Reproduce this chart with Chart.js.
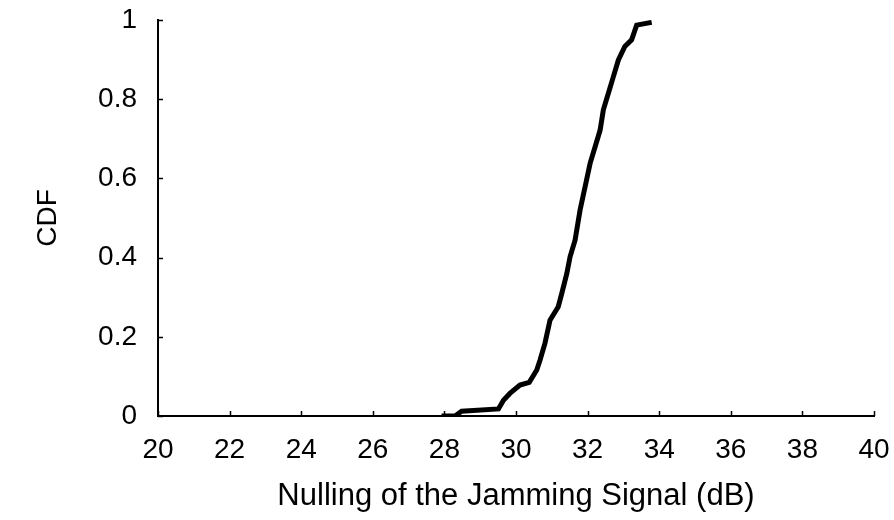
<!DOCTYPE html>
<html>
<head>
<meta charset="utf-8">
<script src="https://cdn.jsdelivr.net/npm/chart.js@4"></script>
<style>
  html, body { margin: 0; padding: 0; background: #fff; }
  #wrap { width: 894px; height: 520px; }
</style>
</head>
<body>
<div id="wrap"><canvas id="c" width="894" height="520"></canvas></div>
<script>
// Values
const nullingDb = [27.92, 28.3, 28.48, 29.51, 29.65, 29.83, 30.11, 30.37, 30.58, 30.67, 30.81, 30.95,
  31.18, 31.28, 31.42, 31.51, 31.65, 31.79, 31.93, 32.07, 32.21, 32.35, 32.44, 32.58, 32.72,
  32.86, 33.04, 33.23, 33.37, 33.79];
const cdfValues = [0, 0, 0.012, 0.018, 0.04, 0.057, 0.078, 0.085, 0.116, 0.141, 0.184, 0.242,
  0.276, 0.31, 0.36, 0.402, 0.444, 0.52, 0.579, 0.638, 0.68, 0.722, 0.773, 0.815, 0.857,
  0.899, 0.933, 0.95, 0.987, 0.994];
const xTicks = [20, 22, 24, 26, 28, 30, 32, 34, 36, 38, 40];
const yTicks = [0, 0.2, 0.4, 0.6, 0.8, 1];

const FONT = 'Liberation Sans, Arial, Helvetica, sans-serif';

// short tick marks drawn inward, like the original figure
const innerTicks = {
  id: 'innerTicks',
  afterDraw(chart) {
    const { ctx, chartArea, scales } = chart;
    ctx.save();
    ctx.strokeStyle = '#000';
    ctx.lineWidth = 1.5;
    ctx.beginPath();
    for (const v of xTicks) {
      const px = Math.round(scales.x.getPixelForValue(v)) + 0.5;
      ctx.moveTo(px, chartArea.bottom);
      ctx.lineTo(px, chartArea.bottom - 5);
    }
    for (const v of yTicks) {
      const py = Math.round(scales.y.getPixelForValue(v)) + 0.5;
      ctx.moveTo(chartArea.left, py);
      ctx.lineTo(chartArea.left + 5, py);
    }
    ctx.stroke();
    ctx.restore();
  }
};

const points = nullingDb.map((x, i) => ({ x, y: cdfValues[i] }));

new Chart(document.getElementById('c'), {
  type: 'line',
  data: {
    datasets: [{
      data: points,
      borderColor: '#000',
      borderWidth: 5,
      pointRadius: 0,
      tension: 0,
      fill: false
    }]
  },
  options: {
    responsive: false,
    animation: false,
    events: [],
    layout: { padding: { left: 0, right: 20, top: 20, bottom: 0 } },
    plugins: { legend: { display: false }, tooltip: { enabled: false } },
    scales: {
      x: {
        type: 'linear',
        min: 20, max: 40,
        afterBuildTicks(scale) { scale.ticks = xTicks.map(v => ({ value: v })); },
        afterFit(scale) {
          scale.height = 104;
          scale.paddingLeft = 0;
          scale.paddingRight = 0;
        },
        grid: { display: true, drawOnChartArea: false, drawTicks: false },
        border: { display: true, color: '#000', width: 2 },
        ticks: {
          color: '#000', font: { family: FONT, size: 28 }, padding: 17, maxRotation: 0,
          callback: v => String(v)
        },
        title: {
          display: true,
          text: 'Nulling of the Jamming Signal (dB)',
          color: '#000',
          font: { family: FONT, size: 31 },
          padding: { top: 0, bottom: 5 }
        }
      },
      y: {
        min: 0, max: 1,
        afterBuildTicks(scale) { scale.ticks = yTicks.map(v => ({ value: v })); },
        afterFit(scale) {
          scale.width = 158;
          scale.paddingTop = 0;
          scale.paddingBottom = 0;
        },
        grid: { display: true, drawOnChartArea: false, drawTicks: false },
        border: { display: true, color: '#000', width: 2 },
        ticks: {
          color: '#000', font: { family: FONT, size: 28 }, padding: 21,
          callback: v => String(v)
        },
        title: {
          display: true,
          text: 'CDF',
          color: '#000',
          font: { family: FONT, size: 28 },
          padding: { top: 31, bottom: 0 }
        }
      }
    }
  },
  plugins: [innerTicks]
});
</script>
</body>
</html>
